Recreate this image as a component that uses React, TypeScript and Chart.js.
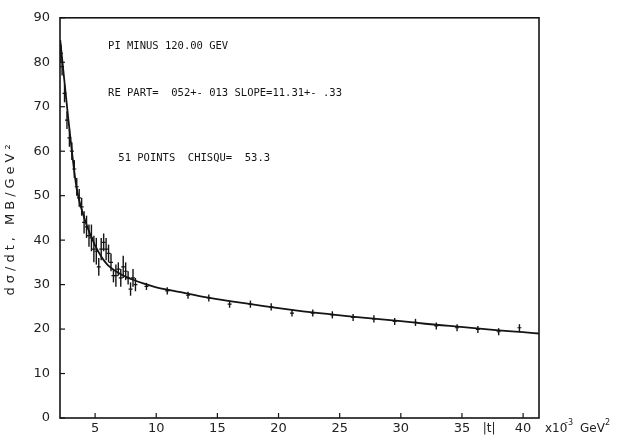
import React, { useEffect, useRef } from "react";
import { Chart, registerables } from "chart.js";

Chart.register(...registerables);

// measured |t| values (x10^-3 GeV^2)
const tValues = [
  2.2, 2.3, 2.5, 2.7, 2.9, 3.1, 3.3, 3.5, 3.7, 3.9, 4.1, 4.3, 4.5, 4.7, 4.9, 5.1,
  5.3, 5.5, 5.7, 5.9, 6.1, 6.3, 6.5, 6.7, 6.9, 7.1, 7.3, 7.5, 7.7, 7.9, 8.1, 8.3,
  9.2, 10.9, 12.6, 14.3, 16.0, 17.7, 19.4, 21.1, 22.8, 24.4, 26.1, 27.8, 29.5,
  31.2, 32.9, 34.6, 36.3, 38.0, 39.7,
];
// measured dsigma/dt (MB/GeV^2)
const dsdtValues = [
  82, 79, 73, 67, 63, 60, 56, 52, 49.5, 47.5, 44, 43, 41, 40.5, 38, 37.5,
  34, 38, 39.5, 38, 37, 35, 32, 32, 33.5, 31.5, 34, 33, 31.5, 29, 31.5, 30,
  29.6, 28.6, 27.6, 27.0, 25.6, 25.6, 25.0, 23.6, 23.6, 23.2, 22.6, 22.3, 21.7,
  21.5, 20.7, 20.3, 19.9, 19.4, 20.3,
];
// error bar half-widths
const dsdtErrors = [
  2, 2, 2, 2, 2, 2, 2, 2, 2, 2, 2.5, 2.5, 2.5, 3, 3, 3,
  2, 2.5, 2, 2.5, 2, 2, 1.5, 2.5, 1.5, 2, 2.5, 2, 1.5, 1.5, 2, 1.5,
  0.8, 0.8, 0.8, 0.8, 0.8, 0.8, 0.8, 0.8, 0.8, 0.8, 0.8, 0.8, 0.8,
  0.8, 0.8, 0.8, 0.8, 0.8, 0.8,
];

// fitted curve
const fitT = [
  2.15, 2.5, 2.8, 3.1, 3.5, 4.0, 4.5, 5.0, 5.5, 6.0, 7.0, 8.0, 9.0, 10, 12, 14,
  16, 18, 20, 22, 24, 26, 28, 30, 32, 34, 36, 38, 40, 41.3,
];
const fitY = [
  85, 75.5, 67.5, 60, 51.5, 46, 42, 38.8, 36.3, 34.5, 32.5, 31.2, 30.2, 29.4,
  28.3, 27.2, 26.3, 25.5, 24.7, 24.0, 23.4, 22.8, 22.3, 21.8, 21.2, 20.7, 20.2,
  19.7, 19.3, 19.0,
];

const xTicks = [5, 10, 15, 20, 25, 30, 35, 40];
const yTicks = [0, 10, 20, 30, 40, 50, 60, 70, 80, 90];

const annotationLines = [
  "PI MINUS 120.00 GEV",
  "RE PART=  052+- 013 SLOPE=11.31+- .33",
  "51 POINTS  CHISQU=  53.3",
];
const yTitle = "dσ/dt, MB/GeV²";

const INK = "#141414";

const decorPlugin = {
  id: "decor",
  afterDatasetsDraw(chart: any) {
    const { ctx, chartArea, scales } = chart;
    const xs = scales.x;
    const ys = scales.y;
    ctx.save();
    // error bars
    ctx.strokeStyle = INK;
    ctx.lineWidth = 1.4;
    tValues.forEach((t, i) => {
      const px = xs.getPixelForValue(t);
      const y1 = ys.getPixelForValue(dsdtValues[i] - dsdtErrors[i]);
      const y2 = ys.getPixelForValue(dsdtValues[i] + dsdtErrors[i]);
      ctx.beginPath();
      ctx.moveTo(px, y1);
      ctx.lineTo(px, y2);
      ctx.stroke();
    });
    // frame
    ctx.lineWidth = 1.6;
    ctx.strokeRect(chartArea.left, chartArea.top, chartArea.right - chartArea.left, chartArea.bottom - chartArea.top);
    // inner ticks
    ctx.lineWidth = 1.2;
    yTicks.forEach((v) => {
      const py = ys.getPixelForValue(v);
      ctx.beginPath();
      ctx.moveTo(chartArea.left, py);
      ctx.lineTo(chartArea.left + 5, py);
      ctx.stroke();
    });
    xTicks.forEach((v) => {
      const px = xs.getPixelForValue(v);
      ctx.beginPath();
      ctx.moveTo(px, chartArea.bottom);
      ctx.lineTo(px, chartArea.bottom - 5);
      ctx.stroke();
    });
    // annotations
    ctx.fillStyle = INK;
    ctx.font = '10.5px "DejaVu Sans Mono"';
    ctx.textBaseline = "middle";
    ctx.textAlign = "left";
    ctx.fillText(annotationLines[0], xs.getPixelForValue(6.06), ys.getPixelForValue(83.5));
    ctx.fillText(annotationLines[1], xs.getPixelForValue(6.06), ys.getPixelForValue(73));
    ctx.fillText(annotationLines[2], xs.getPixelForValue(6.9), ys.getPixelForValue(58.3));
    // x-axis extra labels
    ctx.fillStyle = "#222";
    ctx.font = '12px "DejaVu Sans"';
    const ly = chartArea.bottom + 11;
    ctx.fillText("|t|", xs.getPixelForValue(36.7), ly);
    const ux = chartArea.right + 6;
    ctx.fillText("x10", ux, ly);
    ctx.font = '8px "DejaVu Sans"';
    ctx.fillText("-3", ux + 20, ly - 6);
    ctx.font = '12px "DejaVu Sans"';
    ctx.fillText("GeV", ux + 35, ly);
    ctx.font = '8px "DejaVu Sans"';
    ctx.fillText("2", ux + 60, ly - 6);
    // y-axis title, spaced letters
    ctx.save();
    ctx.translate(11, (chartArea.top + chartArea.bottom) / 2);
    ctx.rotate(-Math.PI / 2);
    ctx.font = '13px "DejaVu Sans"';
    (ctx as any).letterSpacing = "4px";
    ctx.textAlign = "center";
    ctx.fillText(yTitle, 0, 0);
    ctx.restore();
    ctx.restore();
  },
};

export default function App() {
  const ref = useRef<HTMLCanvasElement>(null);
  useEffect(() => {
    if (!ref.current) return;
    const points = tValues.map((t, i) => ({ x: t, y: dsdtValues[i] }));
    const fit = fitT.map((t, i) => ({ x: t, y: fitY[i] }));
    const chart = new Chart(ref.current, {
      type: "scatter",
      data: {
        datasets: [
          {
            type: "line",
            data: fit,
            borderColor: INK,
            borderWidth: 1.8,
            pointRadius: 0,
            cubicInterpolationMode: "monotone",
            fill: false,
          } as any,
          {
            type: "scatter",
            data: points,
            pointStyle: "line",
            pointRadius: 2,
            borderColor: INK,
            backgroundColor: INK,
            borderWidth: 1.2,
          } as any,
        ],
      },
      options: {
        responsive: true,
        maintainAspectRatio: false,
        animation: false,
        layout: { padding: { left: 0, top: 14, right: 80, bottom: 0 } },
        plugins: { legend: { display: false }, tooltip: { enabled: false } },
        scales: {
          x: {
            type: "linear",
            min: 2.13,
            max: 41.3,
            grid: { display: false, drawTicks: false, tickLength: 0 },
            border: { display: false },
            afterBuildTicks: (s: any) => {
              s.ticks = xTicks.map((v) => ({ value: v }));
            },
            afterFit: (s: any) => {
              s.height = 23;
            },
            ticks: {
              color: "#222",
              font: { family: "DejaVu Sans", size: 13 },
              padding: 3,
              maxRotation: 0,
              autoSkip: false,
            },
          },
          y: {
            type: "linear",
            min: 0,
            max: 90,
            grid: { display: false, drawTicks: false, tickLength: 0 },
            border: { display: false },
            afterBuildTicks: (s: any) => {
              s.ticks = yTicks.map((v) => ({ value: v }));
            },
            afterFit: (s: any) => {
              s.width = 60;
            },
            ticks: {
              color: "#222",
              font: { family: "DejaVu Sans", size: 13 },
              padding: 10,
            },
          },
        },
      },
      plugins: [decorPlugin],
    });
    return () => chart.destroy();
  }, []);
  return (
    <div style={{ position: "fixed", left: 0, top: 0, width: 619, height: 441, background: "#fff" }}>
      <canvas ref={ref} />
    </div>
  );
}
